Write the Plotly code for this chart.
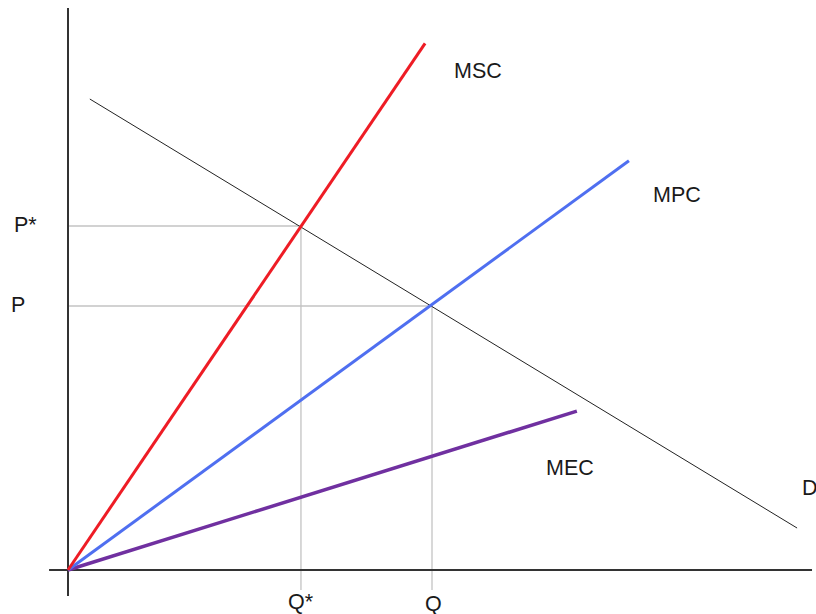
import plotly.graph_objects as go

# Economic values (quantity units on x, price units on y)
Q_star, P_star = 6.4, 13.03
Q_mkt, P_mkt = 10.0, 10.0

# Curves: endpoints (x, y)
msc_x = [0.0, 9.81]
msc_y = [0.0, 19.95]
mpc_x = [0.0, 15.41]
mpc_y = [0.0, 15.50]
mec_x = [0.0, 13.98]
mec_y = [0.0, 6.02]
d_x = [0.60, 20.03]
d_y = [17.84, 1.59]

# Axis line extents
yaxis_line_y = [-0.985, 21.29]
xaxis_line_x = [-0.52, 20.44]
guide_bottom = -0.76

curve_labels = ["MSC", "MPC", "MEC", "D"]
curve_label_x = [11.26, 16.73, 13.80, 20.38]
curve_label_y = [18.89, 14.20, 3.875, 3.125]

price_labels = ["P*", "P"]
price_label_x = [-1.16, -1.365]
price_label_y = [13.07, 10.04]
qty_labels = ["Q*", "Q"]
qty_label_x = [6.4, 10.05]
qty_label_y = [-1.21, -1.29]

fig = go.Figure()

grey = "#c3c3c3"
# guide lines
fig.add_trace(go.Scatter(x=[0, Q_star], y=[P_star, P_star], mode="lines",
                         line=dict(color=grey, width=1.3), hoverinfo="skip"))
fig.add_trace(go.Scatter(x=[0, Q_mkt], y=[P_mkt, P_mkt], mode="lines",
                         line=dict(color=grey, width=1.3), hoverinfo="skip"))
fig.add_trace(go.Scatter(x=[Q_star, Q_star], y=[P_star, guide_bottom], mode="lines",
                         line=dict(color=grey, width=1.3), hoverinfo="skip"))
fig.add_trace(go.Scatter(x=[Q_mkt, Q_mkt], y=[P_mkt, guide_bottom], mode="lines",
                         line=dict(color=grey, width=1.3), hoverinfo="skip"))

# axes
fig.add_trace(go.Scatter(x=[0, 0], y=yaxis_line_y, mode="lines",
                         line=dict(color="#333333", width=2), hoverinfo="skip"))
fig.add_trace(go.Scatter(x=xaxis_line_x, y=[0, 0], mode="lines",
                         line=dict(color="#333333", width=2), hoverinfo="skip"))

# curves
fig.add_trace(go.Scatter(x=d_x, y=d_y, mode="lines",
                         line=dict(color="#222222", width=1), name="D"))
fig.add_trace(go.Scatter(x=mec_x, y=mec_y, mode="lines",
                         line=dict(color="#7030a0", width=3.5), name="MEC"))
fig.add_trace(go.Scatter(x=mpc_x, y=mpc_y, mode="lines",
                         line=dict(color="#4f6ff0", width=3), name="MPC"))
fig.add_trace(go.Scatter(x=msc_x, y=msc_y, mode="lines",
                         line=dict(color="#ee1c25", width=3), name="MSC"))

font = dict(family="Liberation Sans, Arial, sans-serif", size=21.5, color="#1a1a1a")
for t, x, y in zip(curve_labels + price_labels + qty_labels,
                   curve_label_x + price_label_x + qty_label_x,
                   curve_label_y + price_label_y + qty_label_y):
    fig.add_annotation(x=x, y=y, text=t, showarrow=False, font=font,
                       xanchor="center", yanchor="middle")

fig.update_layout(
    width=816, height=614,
    margin=dict(l=0, r=0, t=0, b=0),
    paper_bgcolor="white", plot_bgcolor="white",
    showlegend=False,
    hovermode=False,
    xaxis=dict(range=[-68 / 36.4, 748 / 36.4], visible=False, fixedrange=True),
    yaxis=dict(range=[-44 / 26.4, 570 / 26.4], visible=False, fixedrange=True),
)

# remove the page's default body margin and scrollbars so the figure fills the window
post = ("document.body.style.margin='0';"
        "document.body.style.overflow='hidden';"
        "document.documentElement.style.overflow='hidden';")

fig.write_html("out.html", post_script=post, config={"displayModeBar": False})
